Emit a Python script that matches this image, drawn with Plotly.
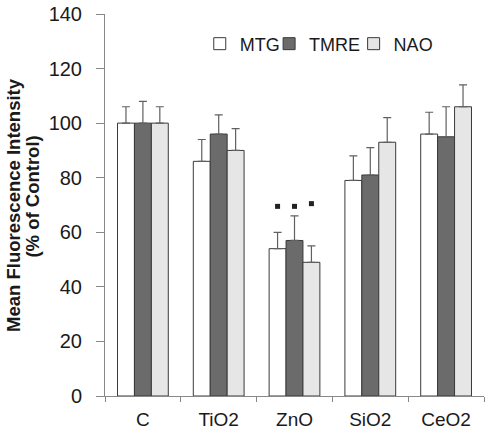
import plotly.graph_objects as go

categories = ["C", "TiO2", "ZnO", "SiO2", "CeO2"]
series_names = ["MTG", "TMRE", "NAO"]
mtg = [100, 86, 54, 79, 96]
tmre = [100, 96, 57, 81, 95]
nao = [100, 90, 49, 93, 106]
mtg_err = [6, 8, 6, 9, 8]
tmre_err = [8, 7, 9, 10, 11]
nao_err = [6, 8, 6, 9, 8]
# significance markers (y position of asterisk, None = not significant)
mtg_sig = [None, None, 69.5, None, None]
tmre_sig = [None, None, 69.5, None, None]
nao_sig = [None, None, 70.5, None, None]
y_ticks = [0, 20, 40, 60, 80, 100, 120, 140]
y_title_lines = ["Mean Fluorescence Intensity", "(% of Control)"]

values = [mtg, tmre, nao]
errors = [mtg_err, tmre_err, nao_err]
sigs = [mtg_sig, tmre_sig, nao_sig]
colors = ["#ffffff", "#6b6b6b", "#e6e6e6"]
legend_ids = ["legend", "legend2", "legend3"]
legend_x = [0.25, 0.433, 0.656]
title_x = [-0.243, -0.190]
title_y = [0.50, 0.522]

FONT = "Arial, Liberation Sans, sans-serif"
fig = go.Figure()
for name, v, e, c, lg in zip(series_names, values, errors, colors, legend_ids):
    fig.add_trace(go.Bar(
        name=name, x=categories, y=v, offsetgroup=name, legend=lg,
        marker=dict(color=c, line=dict(color="#3a3a3a", width=1)),
        error_y=dict(type="data", array=e, arrayminus=[0] * len(e), symmetric=False,
                     color="#606060", thickness=1.2, width=4),
    ))
for name, s in zip(series_names, sigs):
    fig.add_trace(go.Scatter(
        x=categories, y=s, mode="markers", offsetgroup=name, showlegend=False,
        marker=dict(symbol="square", size=5, color="#222222"),
        hoverinfo="skip",
    ))

for txt, tx, ty in zip(y_title_lines, title_x, title_y):
    fig.add_annotation(text="<b>" + txt + "</b>", xref="paper", yref="paper",
                       x=tx, y=ty, xanchor="center", yanchor="middle",
                       textangle=-90, showarrow=False,
                       font=dict(size=18.5, family=FONT, color="#1a1a1a"))

legend_common = dict(orientation="h", y=0.97, xanchor="left", yanchor="top",
                     font=dict(size=18), bgcolor="rgba(0,0,0,0)")
fig.update_layout(
    width=490, height=433,
    margin=dict(l=105, r=6, t=14, b=37, autoexpand=False),
    paper_bgcolor="white", plot_bgcolor="white",
    barmode="group", bargap=0.33, bargroupgap=0,
    scattermode="group", scattergap=0.33,
    font=dict(family=FONT, size=20, color="#1a1a1a"),
    showlegend=True,
    legend=dict(x=legend_x[0], **legend_common),
    legend2=dict(x=legend_x[1], **legend_common),
    legend3=dict(x=legend_x[2], **legend_common),
    xaxis=dict(showline=True, linecolor="#888888", linewidth=1, ticks="outside",
               tickson="boundaries", ticklen=5, tickcolor="#888888", automargin=False,
               showgrid=False, tickfont=dict(size=19), ticklabelstandoff=6),
    yaxis=dict(range=[0, 140], tickvals=y_ticks, showline=True, linecolor="#888888",
               linewidth=1, ticks="outside", ticklen=8, tickcolor="#888888",
               showgrid=False, zeroline=False, tickfont=dict(size=20),
               ticklabelstandoff=10, ticklabeloverflow="allow", automargin=False),
)
fig.write_html("out.html", config={"displayModeBar": False},
               post_script="document.body.style.margin='0';")
